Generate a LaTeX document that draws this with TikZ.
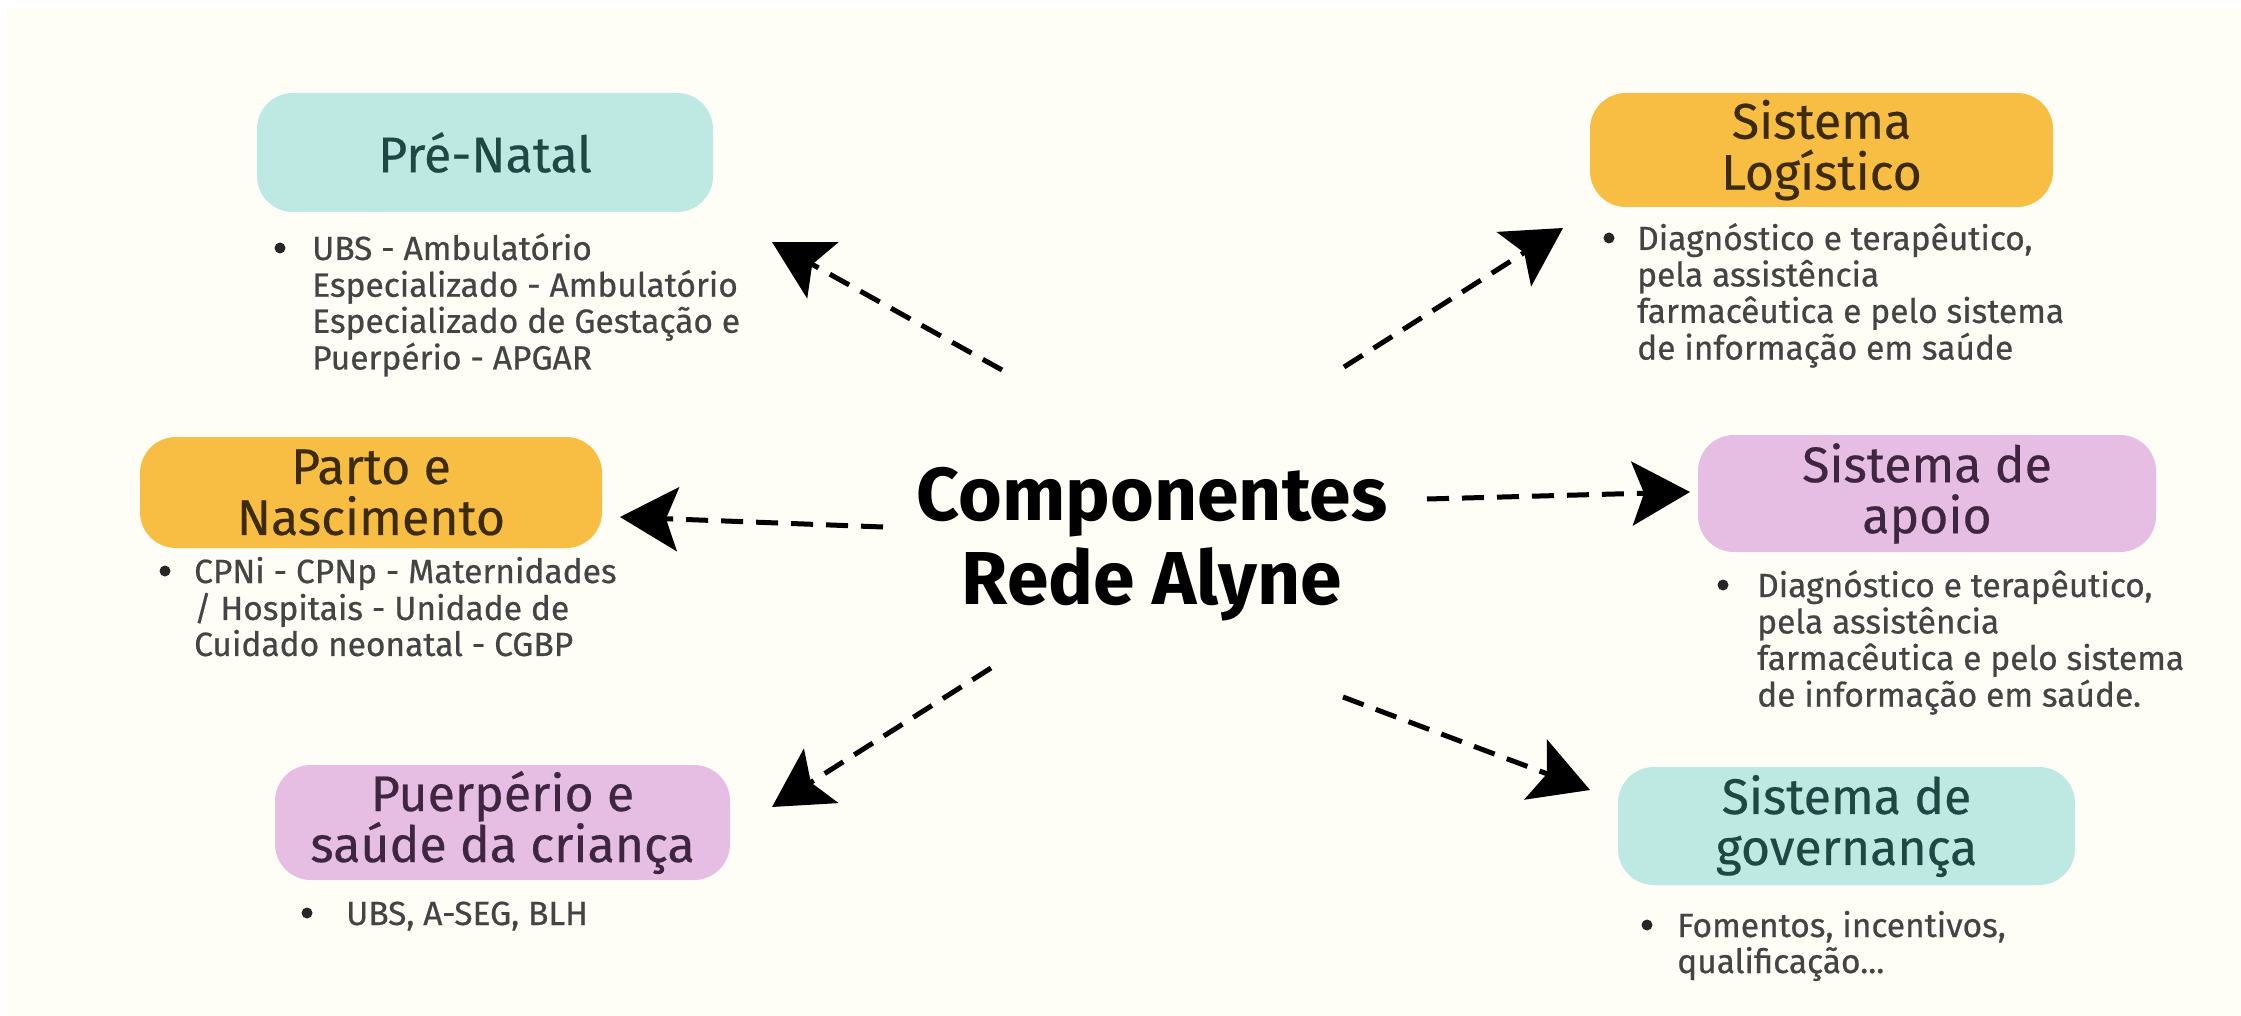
\documentclass[tikz,border=0pt]{standalone}
\usepackage{fontspec}
\setmainfont{Fira Sans}
\newfontfamily\descfont[FakeBold=0.6]{Fira Sans}
\newfontfamily\labelfont[FakeBold=0.4]{Fira Sans}
\usetikzlibrary{arrows.meta}
\definecolor{cream}{HTML}{FEFEF6}
\definecolor{tealfill}{HTML}{BEE9E3}
\definecolor{tealtext}{HTML}{1F4744}
\definecolor{orangefill}{HTML}{F8BE44}
\definecolor{orangetext}{HTML}{3D2B0F}
\definecolor{pinkfill}{HTML}{E7BEE3}
\definecolor{pinktext}{HTML}{3E2640}
\definecolor{desctext}{HTML}{444444}
\begin{document}
\begin{tikzpicture}[x=1pt,y=-1pt,
  box/.style={rounded corners=36pt, inner sep=0pt, align=center,
    font=\labelfont\fontsize{50}{51}\selectfont},
  tealbox/.style={box, fill=tealfill, text=tealtext},
  orangebox/.style={box, fill=orangefill, text=orangetext},
  pinkbox/.style={box, fill=pinkfill, text=pinktext},
  desc/.style={anchor=base west, inner sep=0pt, text=desctext,
    font=\descfont\fontsize{33.5}{33}\selectfont},
  bul/.style={circle, fill=black!85, inner sep=0pt, minimum size=11pt},
  titlenode/.style={anchor=base, inner sep=0pt, text=black,
    font=\fontsize{75}{84}\selectfont\bfseries},
  conn/.style={line width=5pt, dash pattern=on 22pt off 13pt,
    -{Stealth[length=58pt,width=64pt,inset=12pt]}}
]
\useasboundingbox (0,0) rectangle (2241,1016);
\fill[white] (0,0) rectangle (2241,1016);
\fill[cream] (7,7) rectangle (2241,1016);

% boxes
\node[tealbox, minimum width=456pt, minimum height=119pt] (prenatal) at (485,152.5) {Pré-Natal};
\node[orangebox, minimum width=463pt, minimum height=114pt] (logist) at (1821.5,150) {Sistema\\Logístico};
\node[orangebox, minimum width=462pt, minimum height=111pt] (parto) at (371,492.5) {Parto e\\Nascimento};
\node[pinkbox, minimum width=458pt, minimum height=117pt] (apoio) at (1927,493.5) {Sistema de\\apoio};
\node[pinkbox, minimum width=455pt, minimum height=115pt] (puerp) at (502.5,822.5) {Puerpério e\\saúde da criança};
\node[tealbox, minimum width=457pt, minimum height=118pt] (gov) at (1846.5,826) {Sistema de\\governança};

% descriptions
\node[bul] (prenatal-b) at (280,248) {};
\node[desc] (prenatal-d) at (312,260) {\begin{tabular}[t]{@{}l@{}}UBS - Ambulatório\\Especializado - Ambulatório\\Especializado de Gestação e\\Puerpério - APGAR\end{tabular}};

\node[bul] (logist-b) at (1609,238) {};
\node[desc] (logist-d) at (1637,250) {\begin{tabular}[t]{@{}l@{}}Diagnóstico e terapêutico,\\pela assistência\\farmacêutica e pelo sistema\\de informação em saúde\end{tabular}};

\node[bul] (parto-b) at (165,571) {};
\node[desc] (parto-d) at (194,583) {\begin{tabular}[t]{@{}l@{}}CPNi - CPNp - Maternidades\\/ Hospitais - Unidade de\\Cuidado neonatal - CGBP\end{tabular}};

\node[bul] (apoio-b) at (1723,585) {};
\node[desc] (apoio-d) at (1757,597) {\begin{tabular}[t]{@{}l@{}}Diagnóstico e terapêutico,\\pela assistência\\farmacêutica e pelo sistema\\de informação em saúde.\end{tabular}};

\node[bul] (puerp-b) at (307,913) {};
\node[desc] (puerp-d) at (346,925) {UBS, A-SEG, BLH};

\node[bul] (gov-b) at (1647,925) {};
\node[desc] (gov-d) at (1677,937) {\begin{tabular}[t]{@{}l@{}}Fomentos, incentivos,\\qualificação...\end{tabular}};

% title
\node[titlenode] (title) at (1152,520) {\begin{tabular}[t]{@{}c@{}}Componentes\\Rede Alyne\end{tabular}};

% connectors
\coordinate (ul-s) at (1002,370);  \coordinate (ul-e) at (772,242);
\coordinate (l-s) at (883,527);    \coordinate (l-e) at (620,517);
\coordinate (ll-s) at (991,668);   \coordinate (ll-e) at (772,807);
\coordinate (ur-s) at (1344,367);  \coordinate (ur-e) at (1563,228);
\coordinate (r-s) at (1427,499);   \coordinate (r-e) at (1690,492);
\coordinate (lr-s) at (1343,697);  \coordinate (lr-e) at (1590,790);
\draw[conn] (ul-s) -- (ul-e);
\draw[conn] (l-s) -- (l-e);
\draw[conn] (ll-s) -- (ll-e);
\draw[conn] (ur-s) -- (ur-e);
\draw[conn] (r-s) -- (r-e);
\draw[conn] (lr-s) -- (lr-e);
\end{tikzpicture}
\end{document}
